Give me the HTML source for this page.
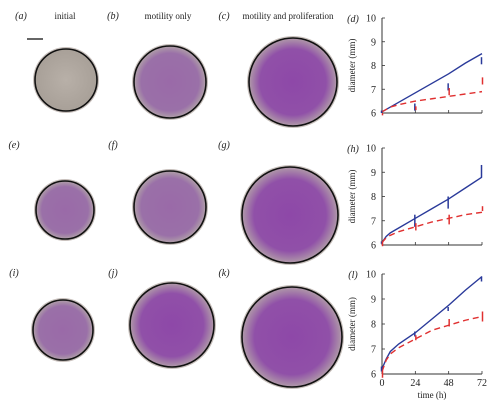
<!DOCTYPE html>
<html><head><meta charset="utf-8"><style>
html,body{margin:0;padding:0;background:#fff;width:500px;height:401px;overflow:hidden}
svg{display:block}
text{font-family:"Liberation Serif",serif;fill:#222}
</style></head><body>
<svg id="fig" width="500" height="401" viewBox="0 0 500 401">
<defs>
<radialGradient id="gGray"><stop offset="0" stop-color="#b8b0a8"/><stop offset="1" stop-color="#a8a098"/></radialGradient>
<radialGradient id="gP1"><stop offset="0" stop-color="#9a6aa8"/><stop offset="0.8" stop-color="#9a70a8"/><stop offset="1" stop-color="#b0a0a8"/></radialGradient>
<radialGradient id="gP2"><stop offset="0" stop-color="#8e48a8"/><stop offset="0.75" stop-color="#9050a8"/><stop offset="1" stop-color="#b09aa8"/></radialGradient>
</defs>
<g id="photos"></g>
<g id="charts"></g>
</svg>
<script>
const NS='http://www.w3.org/2000/svg';
function mk(tag,attrs,parent,txt){const e=document.createElementNS(NS,tag);for(const k in attrs)e.setAttribute(k,attrs[k]);if(txt!==undefined)e.textContent=txt;parent.appendChild(e);return e;}
const photos=document.getElementById('photos');
const charts=document.getElementById('charts');

// panel labels & photo colonies
const colonies=[
 ['a',66,80,31,'gGray'],['b',170,82,36,'gP1'],['c',293,82,44,'gP2'],
 ['e',65,210,29,'gP1'],['f',170,207,36,'gP1'],['g',290,215,48,'gP2'],
 ['i',63,330,30,'gP1'],['j',172,325,42,'gP2'],['k',292,337,50,'gP2']];
const labelPos={a:[21,19],b:[113,19],c:[224,19],e:[14,148],f:[113,148],g:[224,148],i:[14,276],j:[113,276],k:[224,276]};
colonies.forEach(c=>{
 const g=mk('g',{},photos);
 
 
 mk('circle',{cx:c[1],cy:c[2],r:c[3]+2,fill:'#c8c0bc'},g);
 mk('circle',{cx:c[1],cy:c[2],r:c[3],fill:'url(#'+c[4]+')',stroke:'#111','stroke-width':1.6},g);
 const p=labelPos[c[0]];
 const t=mk('text',{x:p[0],y:p[1],'font-size':10,'font-style':'italic','text-anchor':'middle'},photos,'('+c[0]+')');
 
 
});
[['initial',65],['motility only',168],['motility and proliferation',288]].forEach(h=>{
 const t=mk('text',{x:h[1],y:19,'font-size':9,'text-anchor':'middle'},photos,h[0]);
 
 
});
const sb=mk('line',{x1:27,x2:43,y1:39,y2:39,stroke:'#333','stroke-width':1.5},photos);



// chart data
const modelT=[0,3,6,12,24,36,48,60,72];
const topBlue=[6.05,6.15,6.25,6.45,6.85,7.25,7.65,8.1,8.5];
const topRed=[6.05,6.15,6.25,6.35,6.5,6.6,6.7,6.8,6.9];
const midBlue=[6.1,6.35,6.5,6.7,7.1,7.5,7.9,8.35,8.8];
const midRed=[6.1,6.3,6.4,6.55,6.75,6.95,7.1,7.25,7.35];
const botBlue=[6.2,6.6,6.9,7.2,7.65,8.2,8.75,9.35,9.9];
const botRed=[6.1,6.55,6.8,7.05,7.4,7.75,7.95,8.15,8.3];
const dataT=[0,24,48,72];
const topBlueData=[6.05,6.25,7.1,8.2];
const topBlueErr=[0.05,0.15,0.15,0.15];
const topRedData=[5.95,6.2,6.9,7.35];
const topRedErr=[0.05,0.08,0.15,0.15];
const midBlueData=[6.1,7.0,7.75,9.05];
const midBlueErr=[0.05,0.25,0.25,0.25];
const midRedData=[6.05,6.75,7.05,7.5];
const midRedErr=[0.1,0.15,0.2,0.1];
const botBlueData=[6.2,7.6,8.6,9.8];
const botBlueErr=[0.1,0.1,0.08,0.1];
const botRedData=[6.0,7.45,8.05,8.3];
const botRedErr=[0.15,0.1,0.15,0.2];
const yTicks=[6,7,8,9,10];
const xTicks=[0,24,48,72];

const panels=[
 {id:'d',top:18,bot:113,mb:topBlue,mr:topRed,db:topBlueData,eb:topBlueErr,dr:topRedData,er:topRedErr,xl:false},
 {id:'h',top:148,bot:245,mb:midBlue,mr:midRed,db:midBlueData,eb:midBlueErr,dr:midRedData,er:midRedErr,xl:false},
 {id:'l',top:274,bot:374,mb:botBlue,mr:botRed,db:botBlueData,eb:botBlueErr,dr:botRedData,er:botRedErr,xl:true}];
const X0=382,X1=482;
const xs=t=>X0+(t/72)*(X1-X0);
panels.forEach(p=>{
 const ys=v=>p.bot-(v-6)/4*(p.bot-p.top);
 const g=mk('g',{},charts);
 
 
 mk('line',{x1:X0,x2:X0,y1:p.top,y2:p.bot,stroke:'#333','stroke-width':1},g);
 mk('line',{x1:X0,x2:X1,y1:p.bot,y2:p.bot,stroke:'#333','stroke-width':1},g);
 yTicks.forEach(v=>{
  mk('line',{x1:X0,x2:X0+3,y1:ys(v),y2:ys(v),stroke:'#333','stroke-width':0.8},g);
  const t=mk('text',{x:X0-6,y:ys(v)+3.5,'font-size':10,'text-anchor':'end'},g,v);
  
  
 });
 xTicks.forEach(v=>{
  mk('line',{x1:xs(v),x2:xs(v),y1:p.bot,y2:p.bot-3,stroke:'#333','stroke-width':0.8},g);
  if(p.xl){const t=mk('text',{x:xs(v),y:p.bot+12,'font-size':10,'text-anchor':'middle'},g,v);
   
   }
 });
 const yl=mk('text',{x:0,y:0,'font-size':9,'text-anchor':'middle',transform:`translate(${X0-27},${(p.top+p.bot)/2}) rotate(-90)`},g,'diameter (mm)');
 
 
 const pl=mk('text',{x:353,y:p.top+4,'font-size':10,'font-style':'italic','text-anchor':'middle'},g,'('+p.id+')');
 
 
 const bl=mk('polyline',{points:modelT.map((t,i)=>xs(t)+','+ys(p.mb[i])).join(' '),fill:'none',stroke:'#2a3a9a','stroke-width':1.4},g);
 
 
 const rl=mk('polyline',{points:modelT.map((t,i)=>xs(t)+','+ys(p.mr[i])).join(' '),fill:'none',stroke:'#e03030','stroke-width':1.4,'stroke-dasharray':'6,4'},g);
 
 
 dataT.forEach((t,i)=>{
  const e1=mk('line',{x1:xs(t)-0.5,x2:xs(t)-0.5,y1:ys(p.db[i]-p.eb[i]),y2:ys(p.db[i]+p.eb[i]),stroke:'#2a3a9a','stroke-width':1.5},g);
  
  
  const e2=mk('line',{x1:xs(t)+0.5,x2:xs(t)+0.5,y1:ys(p.dr[i]-p.er[i]),y2:ys(p.dr[i]+p.er[i]),stroke:'#e03030','stroke-width':1.5},g);
  
  
 });
 if(p.xl){const xt=mk('text',{x:(X0+X1)/2,y:p.bot+24,'font-size':9,'text-anchor':'middle'},g,'time (h)');
  
  }
});
</script>
</body></html>
